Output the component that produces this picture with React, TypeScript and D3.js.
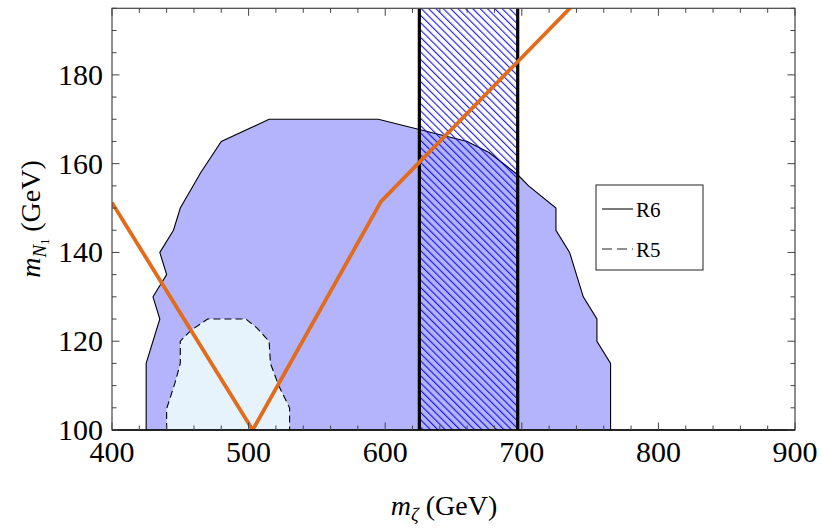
import React from 'react';
import * as d3 from 'd3';

// R6 region boundary (m_zeta, m_N1)
const r6X = [425, 425, 435, 430, 440, 435, 445, 450, 465, 480, 515, 595, 625, 660, 676, 697, 705, 725, 725, 735, 745, 755, 755, 765, 765];
const r6Y = [100, 115, 125, 130, 135, 140, 145, 150, 158, 165, 170, 170, 167.7, 165, 162.5, 157.5, 155, 150, 145, 140, 130, 125, 120, 115, 100];

// R5 region boundary
const r5X = [440, 440, 446, 450, 450, 458, 470, 498, 506, 515, 516, 522, 530, 530];
const r5Y = [100, 104.8, 110.5, 115, 120, 122.5, 125, 125, 123, 120, 115, 110, 105, 100];

// orange curve
const lineX = [400, 503, 597, 740];
const lineY = [151.2, 100, 151.5, 196.5];

// vertical band
const bandX = [625, 697];

const xTicks = [400, 500, 600, 700, 800, 900];
const yTicks = [100, 120, 140, 160, 180];

const legendLabels = ['R6', 'R5'];

const W = 821, H = 531;
const L = 112, R = 795, T = 8.3, B = 430;
const FONT = '"Liberation Serif", "Times New Roman", serif';

export default function App() {
  const x = d3.scaleLinear().domain([400, 900]).range([L, R]);
  const y = d3.scaleLinear().domain([100, 195]).range([B, T]);

  const lineGen = d3.line<[number, number]>().x(d => x(d[0])).y(d => y(d[1]));
  const r6 = r6X.map((v, i) => [v, r6Y[i]] as [number, number]);
  const r5 = r5X.map((v, i) => [v, r5Y[i]] as [number, number]);
  const orange = lineX.map((v, i) => [v, lineY[i]] as [number, number]);

  const xMinor = d3.range(400, 901, 20);
  const yMinor = d3.range(100, 196, 5);
  const frame = '#444';

  return (
    <svg width={W} height={H} style={{ position: 'absolute', left: 0, top: 0, background: '#fff' }} fontFamily={FONT}>
      <defs>
        <clipPath id="plot">
          <rect x={L} y={T} width={R - L} height={B - T} />
        </clipPath>
        <pattern id="hatch" patternUnits="userSpaceOnUse" width={5.2} height={5.2} patternTransform="rotate(-45)">
          <line x1={0.6} y1={0} x2={0.6} y2={5.2} stroke="#0000f0" strokeWidth={1.0} />
        </pattern>
      </defs>
      <rect x={0} y={0} width={W} height={H} fill="#fff" />
      <g clipPath="url(#plot)">
        <path d={lineGen(r6) + 'Z'} fill="#b4b4fc" stroke="none" />
        <path d={lineGen(r6) as string} fill="none" stroke="#000" strokeWidth={1.1} />
        <path d={lineGen(r5) + 'Z'} fill="#e6f3fd" stroke="none" />
        <path d={lineGen(r5) as string} fill="none" stroke="#000" strokeWidth={1.1} strokeDasharray="7,4" />
        <rect x={x(bandX[0])} y={T} width={x(bandX[1]) - x(bandX[0])} height={B - T} fill="url(#hatch)" />
        {bandX.map((b, i) => (
          <line key={i} x1={x(b)} x2={x(b)} y1={T} y2={B} stroke="#000" strokeWidth={3.2} />
        ))}
        <path d={lineGen(orange) as string} fill="none" stroke="#e06c1c" strokeWidth={3.8} strokeLinejoin="miter" />
      </g>
      {/* frame */}
      <rect x={L} y={T} width={R - L} height={B - T} fill="none" stroke={frame} strokeWidth={1.2} />
      <line x1={L} x2={R} y1={B} y2={B} stroke="#000" strokeWidth={1.5} />
      {/* ticks */}
      {xMinor.map(v => {
        const major = v % 100 === 0;
        const len = major ? 7.5 : 4.5;
        return (
          <g key={'xt' + v}>
            <line x1={x(v)} x2={x(v)} y1={B} y2={B - len} stroke={frame} strokeWidth={1} />
            <line x1={x(v)} x2={x(v)} y1={T} y2={T + len} stroke={frame} strokeWidth={1} />
          </g>
        );
      })}
      {yMinor.map(v => {
        const major = v % 20 === 0;
        const len = major ? 7.5 : 4.5;
        return (
          <g key={'yt' + v}>
            <line x1={L} x2={L + len} y1={y(v)} y2={y(v)} stroke={frame} strokeWidth={1} />
            <line x1={R} x2={R - len} y1={y(v)} y2={y(v)} stroke={frame} strokeWidth={1} />
          </g>
        );
      })}
      {xTicks.map(v => (
        <text key={'xl' + v} x={x(v)} y={462} textAnchor="middle" fontSize={30} fill="#000">{v}</text>
      ))}
      {yTicks.map(v => (
        <text key={'yl' + v} x={103} y={y(v) + 10} textAnchor="end" fontSize={30} fill="#000">{v}</text>
      ))}
      {/* x label */}
      <text x={444} y={515} textAnchor="middle" fontSize={28} fill="#000">
        <tspan fontStyle="italic">m</tspan>
        <tspan fontStyle="italic" fontSize={19} dy={6}>ζ</tspan>
        <tspan dy={-6}> (GeV)</tspan>
      </text>
      {/* y label */}
      <text transform={`translate(40,219) rotate(-90)`} textAnchor="middle" fontSize={28} fill="#000">
        <tspan fontStyle="italic">m</tspan>
        <tspan fontStyle="italic" fontSize={19} dy={6}>N</tspan>
        <tspan fontSize={12} dy={3}>1</tspan>
        <tspan dy={-9}> (GeV)</tspan>
      </text>
      {/* legend */}
      <rect x={596} y={185} width={107} height={85} fill="#fff" stroke="#222" strokeWidth={1} />
      {legendLabels.map((lab, i) => {
        const ly = 209 + i * 40;
        return (
          <g key={lab}>
            <line x1={602} x2={633} y1={ly} y2={ly} stroke="#222" strokeWidth={1.2} strokeDasharray={i === 1 ? '10,5' : undefined} />
            <text x={636} y={ly + 7.5} fontSize={21} fill="#000">{lab}</text>
          </g>
        );
      })}
    </svg>
  );
}
